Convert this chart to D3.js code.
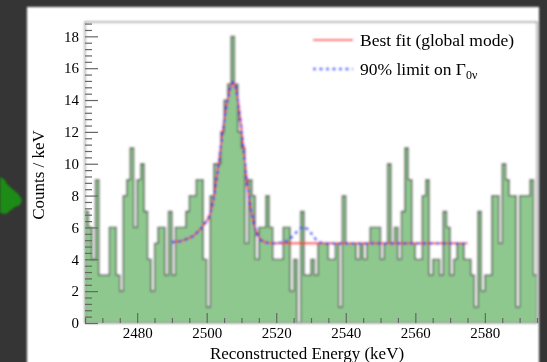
<!DOCTYPE html>
<html><head><meta charset="utf-8">
<script src="https://cdn.jsdelivr.net/npm/d3@7/dist/d3.min.js"></script>
<style>html,body{margin:0;padding:0;background:#353535;overflow:hidden}svg{display:block}</style>
</head><body>
<svg id="c" width="547" height="362"></svg>
<script>
// ---------- data ----------
const binStart = 2465;           // lower edge of first 1 keV bin
const binWidth = 1;
const counts = [
  7,6,4,9,3,3,3,6,6,3,
  2,8,9,11,6,9,10,7,4,2,
  5,6,6,3,7,3,6,6,6,7,
  8,8,9,9,4,1,8,10,10,12,
  14,15,18,15,12,11,5,9,8,4,
  6,6,8,6,4,4,4,6,6,2,
  4,0,7,3,3,4,3,5,5,5,
  4,4,5,1,8,5,5,5,4,5,
  4,5,6,6,6,4,5,10,5,6,
  4,7,11,9,5,4,4,8,9,3,
  4,4,3,7,6,3,4,5,5,4,
  4,3,1,7,2,3,3,8,8,5,
  10,9,8,8,1,8,8,8,9,3
];
const fitE    = [2490,2492,2494,2496,2498,2499,2500,2501,2502,2503,2504,2505,2506,2507,2507.6,2508,2509,2510,2511,2512,2513,2514,2515,2516,2517,2519,2575];
const bestFit = [5.08,5.12,5.25,5.45,5.85,6.1,6.4,6.9,7.8,9.3,11.0,12.7,14.0,14.9,15.1,15.0,14.0,12.2,10.1,8.2,6.8,5.9,5.4,5.15,5.05,5.0,5.0];
const limitE  = [2490,2492,2494,2496,2498,2499,2500,2501,2502,2503,2504,2505,2506,2507,2507.6,2508,2509,2510,2511,2512,2513,2514,2515,2516,2517,2519,2520,2522,2524,2525,2526,2527,2528,2529,2530,2531,2532,2533,2535,2575];
const limitFit= [5.08,5.12,5.25,5.45,5.85,6.1,6.4,6.9,7.8,9.3,11.0,12.7,14.0,14.9,15.1,15.0,14.0,12.2,10.1,8.2,6.8,5.9,5.4,5.15,5.05,5.0,5.02,5.06,5.3,5.5,5.75,5.95,6.0,5.9,5.65,5.35,5.15,5.05,5.0,5.0];
const xMajorTicks = [2480,2500,2520,2540,2560,2580];
const yMajorTicks = [0,2,4,6,8,10,12,14,16,18];
const xDomain = [2465, 2595];
const yDomain = [0, 18.9];
const legendLabels = ["Best fit (global mode)", "90% limit on \u0393", "0\u03bd"];
const xTitle = "Reconstructed Energy (keV)";
const yTitle = "Counts / keV";

// ---------- layout ----------
const F = {l:85, r:537, t:22, b:323};
const svg = d3.select("#c");
const defs = svg.append("defs");
function blur(id, s){
  defs.append("filter").attr("id",id).attr("filterUnits","userSpaceOnUse")
    .attr("x",0).attr("y",0).attr("width",547).attr("height",362)
    .append("feGaussianBlur").attr("stdDeviation",s);
}
blur("soft",0.85); blur("softT",0.45);
defs.append("clipPath").attr("id","fr").append("rect")
  .attr("x",F.l).attr("y",F.t).attr("width",F.r-F.l).attr("height",F.b-F.t);

svg.append("rect").attr("width",547).attr("height",362).attr("fill","#353535");
// decorative green smudge at left edge
svg.append("path").attr("fill","#1e8c12").attr("filter","url(#soft)")
  .attr("d","M0,177 L4,179 L7,184 L11,188 L15,191 L19,195 L22,200 L20,205 L15,207 L11,210 L6,214 L0,213 Z");

const root = svg.append("g").attr("filter","url(#soft)");
root.append("rect").attr("x",27).attr("y",7).attr("width",512).attr("height",360).attr("fill","#ffffff");

const x = d3.scaleLinear().domain(xDomain).range([F.l, F.r]);
const y = d3.scaleLinear().domain(yDomain).range([F.b, F.t]);

const plot = root.append("g").attr("clip-path","url(#fr)");
const bins = counts.map((c,i)=>({e0: binStart + i*binWidth, e1: binStart + (i+1)*binWidth, c}));
const stepPts = bins.map(d=>[d.e0,d.c]).concat([[bins[bins.length-1].e1, bins[bins.length-1].c]]);

// histogram bars (filled as one stepped area, then the outline)
plot.append("path").datum(stepPts)
  .attr("d", d3.area().x(d=>x(d[0])).y0(y(0)).y1(d=>y(d[1])).curve(d3.curveStepAfter))
  .attr("fill","#8ec88e");
plot.append("path").datum(stepPts)
  .attr("d", d3.line().x(d=>x(d[0])).y(d=>y(d[1])).curve(d3.curveStepAfter))
  .attr("fill","none").attr("stroke","#3f4a3f").attr("stroke-width",1.3);

const lineGen = d3.line().x(d=>x(d[0])).y(d=>y(d[1])).curve(d3.curveMonotoneX);
plot.append("path").datum(fitE.map((e,i)=>[e,bestFit[i]]))
  .attr("d", lineGen).attr("fill","none").attr("stroke","#ff2a2a").attr("stroke-width",2);
plot.append("path").datum(limitE.map((e,i)=>[e,limitFit[i]]))
  .attr("d", lineGen).attr("fill","none").attr("stroke","#1f3dff").attr("stroke-width",2.4)
  .attr("stroke-dasharray","3,3.5");

// frame
root.append("rect").attr("x",F.l).attr("y",F.t).attr("width",F.r-F.l).attr("height",F.b-F.t)
  .attr("fill","none").attr("stroke","#8c8c8c").attr("stroke-width",1.3);

// axes (ticks pointing inward, ROOT style)
const font = "'Liberation Serif','Times New Roman',serif";
const yMinor = d3.range(0, 18.81, 0.4).filter(v => Math.abs(v/2 - Math.round(v/2)) > 1e-6);
const xMinor = d3.range(2465, 2596, 5).filter(v => !xMajorTicks.includes(v));

const txt = svg.append("g").attr("filter","url(#softT)");

txt.append("g").attr("transform",`translate(${F.l},0)`)
  .call(d3.axisLeft(y).tickValues(yMajorTicks).tickSize(-13).tickPadding(6).tickFormat(d3.format("d")));
txt.append("g").attr("transform",`translate(${F.l},0)`)
  .call(d3.axisLeft(y).tickValues(yMinor).tickSize(-7).tickFormat(""));
txt.append("g").attr("transform",`translate(0,${F.b})`)
  .call(d3.axisBottom(x).tickValues(xMajorTicks).tickSize(-10).tickPadding(4).tickFormat(d3.format("d")));
txt.append("g").attr("transform",`translate(0,${F.b})`)
  .call(d3.axisBottom(x).tickValues(xMinor).tickSize(-5).tickFormat(""));
txt.selectAll(".domain").remove();
txt.selectAll(".tick line").attr("stroke","#666").attr("stroke-width",1.2);
txt.selectAll(".tick text").attr("font-family",font).attr("font-size",15).attr("fill","#000");

// axis titles
txt.append("text").attr("x",(F.l+F.r)/2 - 4).attr("y",359).attr("text-anchor","middle")
  .attr("font-family",font).attr("font-size",17).attr("fill","#000").text(xTitle);
txt.append("text").attr("transform","translate(44,175) rotate(-90)").attr("text-anchor","middle")
  .attr("font-family",font).attr("font-size",17).attr("fill","#000").text(yTitle);

// legend
const lg = root.append("g");
lg.append("line").attr("x1",313).attr("x2",353).attr("y1",40).attr("y2",40)
  .attr("stroke","#ff2a2a").attr("stroke-width",2);
lg.append("line").attr("x1",313).attr("x2",353).attr("y1",69).attr("y2",69)
  .attr("stroke","#1f3dff").attr("stroke-width",2.4).attr("stroke-dasharray","3,3.5");
txt.append("text").attr("x",360).attr("y",46).attr("font-family",font).attr("font-size",17.5)
  .attr("fill","#000").text(legendLabels[0]);
const t2 = txt.append("text").attr("x",360).attr("y",75).attr("font-family",font).attr("font-size",17.5)
  .attr("fill","#000");
t2.append("tspan").text(legendLabels[1]);
t2.append("tspan").attr("font-size",12).attr("dy",4).text(legendLabels[2]);
</script>
</body></html>
